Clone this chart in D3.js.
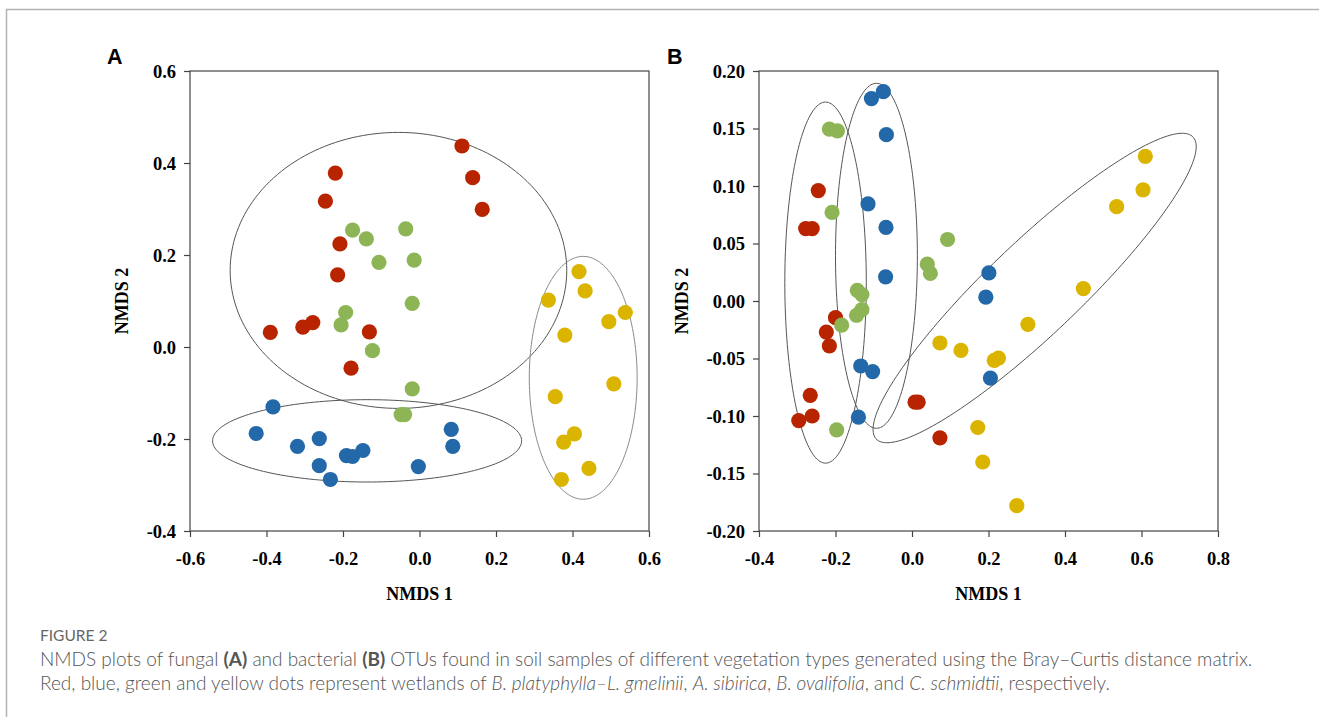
<!DOCTYPE html>
<html>
<head>
<meta charset="utf-8">
<script src="https://cdn.jsdelivr.net/npm/d3@7"></script>
<style>
  body { margin: 0; background: #fff; }
  svg { display: block; }
</style>
</head>
<body>
<div id="canvas" class="canvas" style="width:1319px;height:717px;"></div>
<script>
// --- data: [NMDS 1, NMDS 2]
var fungalRed = [[0.111,0.437],[0.139,0.368],[0.164,0.299],[-0.220,0.378],[-0.246,0.317],
  [-0.208,0.224],[-0.214,0.157],[-0.390,0.032],[-0.305,0.043],[-0.279,0.053],[-0.131,0.033],[-0.179,-0.046]];
var fungalBlue = [[-0.383,-0.130],[-0.427,-0.188],[-0.319,-0.216],[-0.262,-0.199],[-0.262,-0.258],
  [-0.233,-0.288],[-0.191,-0.236],[-0.175,-0.238],[-0.148,-0.225],[-0.003,-0.260],[0.083,-0.179],[0.087,-0.216]];
var fungalGreen = [[-0.175,0.254],[-0.139,0.235],[-0.036,0.257],[-0.106,0.184],[-0.014,0.189],
  [-0.019,0.095],[-0.193,0.075],[-0.205,0.048],[-0.123,-0.008],[-0.019,-0.091],[-0.048,-0.147],[-0.039,-0.147]];
var fungalYellow = [[0.417,0.164],[0.433,0.122],[0.337,0.102],[0.538,0.075],[0.495,0.055],
  [0.380,0.026],[0.508,-0.080],[0.355,-0.108],[0.405,-0.189],[0.377,-0.207],[0.443,-0.264],[0.371,-0.288]];

var bactRed = [[-0.245,0.096],[-0.278,0.063],[-0.261,0.063],[-0.200,-0.0145],[-0.224,-0.027],
  [-0.216,-0.039],[-0.266,-0.082],[-0.261,-0.100],[-0.296,-0.104],[0.008,-0.088],[0.016,-0.088],[0.073,-0.119]];
var bactBlue = [[-0.106,0.176],[-0.075,0.182],[-0.067,0.1446],[-0.115,0.0845],[-0.068,0.064],
  [-0.069,0.021],[0.201,0.0244],[0.193,0.0033],[-0.134,-0.0565],[-0.103,-0.0614],[0.205,-0.067],[-0.140,-0.101]];
var bactGreen = [[-0.216,0.1495],[-0.195,0.148],[-0.209,0.077],[0.093,0.0535],[0.040,0.032],
  [0.048,0.024],[-0.143,0.0093],[-0.131,0.0056],[-0.131,-0.0075],[-0.145,-0.0124],[-0.184,-0.021],[-0.197,-0.112]];
var bactYellow = [[0.610,0.1257],[0.604,0.0967],[0.535,0.082],[0.448,0.0108],[0.303,-0.0203],
  [0.073,-0.0365],[0.128,-0.043],[0.215,-0.0516],[0.226,-0.0496],[0.172,-0.110],[0.185,-0.140],[0.274,-0.178]];

// ellipses: centre + two half-axis vectors, in data units
var fungalEllipses = [
  {cx:-0.055, cy:0.1665, ux:0.440, uy:0, vx:0, vy:0.300, c:'#555'},
  {cx:-0.137, cy:-0.204, ux:0.404, uy:0, vx:0, vy:0.0895, c:'#555'},
  {cx:0.428, cy:-0.067, ux:0.141, uy:0, vx:0, vy:0.264, c:'#8a8a8a'}
];
var bactEllipses = [
  {cx:-0.226, cy:0.016, ux:0.1065, uy:0, vx:0, vy:0.157, c:'#555'},
  {cx:-0.093, cy:0.0393, ux:0.107, uy:0, vx:0, vy:0.150, c:'#555'},
  {cx:0.3206, cy:0.0113, ux:0.412, uy:0.132, vx:0.0933, vy:-0.0261, c:'#555'}
];

var xTicksA = [-0.6,-0.4,-0.2,0.0,0.2,0.4,0.6];
var yTicksA = [-0.4,-0.2,0.0,0.2,0.4,0.6];
var xTicksB = [-0.4,-0.2,0.0,0.2,0.4,0.6,0.8];
var yTicksB = [-0.20,-0.15,-0.10,-0.05,0.00,0.05,0.10,0.15,0.20];

var colors = {red:'#b82300', blue:'#2368a8', green:'#8db556', yellow:'#dbb400'};

var W = 1319, H = 717;
var svg = d3.select('.canvas').append('svg')
    .attr('width', W).attr('height', H);

// --- page frame
svg.append('path')
    .attr('d', 'M6.5,' + H + 'V9.5H' + W)
    .attr('fill', 'none').attr('stroke', '#b3b3b3').attr('stroke-width', 1.5);

var serif = '"Liberation Serif", "Times New Roman", serif';

function panel(opt) {
  var x = d3.scaleLinear().domain(opt.xDom).range([opt.left, opt.right]);
  var y = d3.scaleLinear().domain(opt.yDom).range([opt.bottom, opt.top]);
  var fmt = function(d) { return d3.format(opt.yFmt)(d).replace('\u2212', '-'); };
  var fmtX = function(d) { return d3.format('.1f')(d).replace('\u2212', '-'); };

  var g = svg.append('g');

  var xAxis = g.append('g')
      .attr('transform', 'translate(0,' + opt.bottom + ')')
      .call(d3.axisBottom(x).tickValues(opt.xTicks).tickSize(6).tickPadding(15).tickFormat(fmtX));
  var yAxis = g.append('g')
      .attr('transform', 'translate(' + opt.left + ',0)')
      .call(d3.axisLeft(y).tickValues(opt.yTicks).tickSize(6).tickPadding(8).tickFormat(fmt));
  [xAxis, yAxis].forEach(function(a) {
    a.select('.domain').remove();
    a.selectAll('line').attr('stroke', '#444').attr('stroke-width', 1.2);
    a.selectAll('text')
      .attr('fill', '#000')
      .style('font-family', serif)
      .style('font-weight', 'bold')
      .style('font-size', '18.5px');
  });
  yAxis.selectAll('text').attr('dy', '0.34em');

  g.append('rect')
      .attr('x', opt.left).attr('y', opt.top)
      .attr('width', opt.right - opt.left).attr('height', opt.bottom - opt.top)
      .attr('fill', 'none').attr('stroke', '#444').attr('stroke-width', 1.2);

  // ellipses
  var ts = d3.range(0, 2 * Math.PI + 0.01, Math.PI / 90);
  opt.ellipses.forEach(function(e) {
    var line = d3.line()
        .x(function(t) { return x(e.cx + e.ux * Math.cos(t) + e.vx * Math.sin(t)); })
        .y(function(t) { return y(e.cy + e.uy * Math.cos(t) + e.vy * Math.sin(t)); })
        .curve(d3.curveLinearClosed);
    g.append('path').attr('d', line(ts))
        .attr('fill', 'none').attr('stroke', e.c).attr('stroke-width', 1);
  });

  // points
  opt.series.forEach(function(s) {
    g.selectAll(null).data(s.data).enter().append('circle')
        .attr('cx', function(d) { return x(d[0]); })
        .attr('cy', function(d) { return y(d[1]); })
        .attr('r', 7.6)
        .attr('fill', s.color);
  });

  // axis titles
  g.append('text')
      .attr('x', (opt.left + opt.right) / 2).attr('y', opt.bottom + 69)
      .attr('text-anchor', 'middle')
      .style('font-family', serif)
      .style('font-weight', 'bold').style('font-size', '18px')
      .text('NMDS 1');
  g.append('text')
      .attr('transform', 'translate(' + opt.yTitleX + ',' + (opt.top + opt.bottom) / 2 + ') rotate(-90)')
      .attr('text-anchor', 'middle')
      .style('font-family', serif)
      .style('font-weight', 'bold').style('font-size', '18px')
      .text('NMDS 2');

  // panel letter
  g.append('text')
      .attr('x', opt.letterX).attr('y', 64)
      .style('font-family', '"Liberation Sans", Arial, sans-serif')
      .style('font-weight', 'bold').style('font-size', '21.5px')
      .text(opt.letter);
}

panel({
  letter:'A', letterX:107, yTitleX:128,
  left:190, right:649, top:71, bottom:531,
  xDom:[-0.6, 0.6], yDom:[-0.4, 0.6], xTicks:xTicksA, yTicks:yTicksA, yFmt:'.1f',
  ellipses:fungalEllipses,
  series:[{data:fungalRed, color:colors.red},{data:fungalBlue, color:colors.blue},
          {data:fungalGreen, color:colors.green},{data:fungalYellow, color:colors.yellow}]
});

panel({
  letter:'B', letterX:667, yTitleX:688,
  left:759, right:1218, top:71, bottom:531,
  xDom:[-0.4, 0.8], yDom:[-0.2, 0.2], xTicks:xTicksB, yTicks:yTicksB, yFmt:'.2f',
  ellipses:bactEllipses,
  series:[{data:bactRed, color:colors.red},{data:bactBlue, color:colors.blue},
          {data:bactGreen, color:colors.green},{data:bactYellow, color:colors.yellow}]
});

// --- caption
var cap = svg.append('g')
    .style('font-family', 'Lato, "Open Sans", sans-serif')
    .attr('fill', '#555');
cap.append('text').attr('x', 40).attr('y', 641)
    .style('font-size', '15.5px').attr('fill', '#666')
    .text('FIGURE 2');

var line1 = cap.append('text').attr('x', 40).attr('y', 666).style('font-size', '19px').style('font-weight', 300);
line1.append('tspan').text('NMDS plots of fungal ');
line1.append('tspan').style('font-weight', 700).text('(A)');
line1.append('tspan').text(' and bacterial ');
line1.append('tspan').style('font-weight', 700).text('(B)');
line1.append('tspan').text(' OTUs found in soil samples of different vegetation types generated using the Bray\u2013Curtis distance matrix.');

var line2 = cap.append('text').attr('x', 40).attr('y', 690).style('font-size', '19px').style('font-weight', 300);
[['Red, blue, green and yellow dots represent wetlands of ', false],
 ['B. platyphylla\u2013L. gmelinii', true], [', ', false], ['A. sibirica', true], [', ', false],
 ['B. ovalifolia', true], [', and ', false], ['C. schmidtii', true], [', respectively.', false]]
  .forEach(function(p) {
    var t = line2.append('tspan').text(p[0]);
    if (p[1]) t.style('font-style', 'italic');
  });
</script>
</body>
</html>
